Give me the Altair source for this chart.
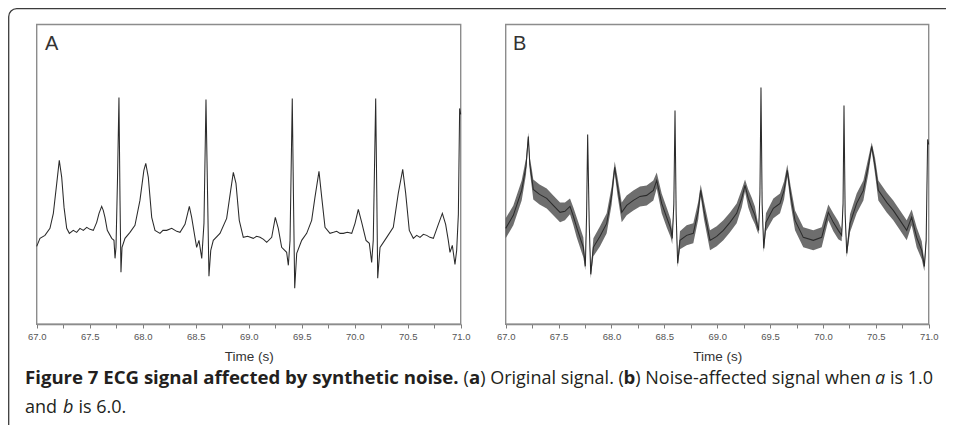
import altair as alt
import pandas as pd

# ---------------- data ----------------
TIME_DOMAIN = [67.0, 71.0]
AMP_DOMAIN = [-1.0, 2.0]
TICK_VALUES = [67.0, 67.25, 67.5, 67.75, 68.0, 68.25, 68.5, 68.75, 69.0,
               69.25, 69.5, 69.75, 70.0, 70.25, 70.5, 70.75, 71.0]

# Panel A: original ECG signal (time in s, amplitude in arbitrary units)
A_TIME = [
    67.000, 67.031, 67.078, 67.125, 67.157, 67.189, 67.213, 67.236, 67.258, 67.283,
    67.308, 67.345, 67.377, 67.408, 67.440, 67.472, 67.503, 67.534, 67.566, 67.588,
    67.613, 67.628, 67.644, 67.666, 67.708, 67.729, 67.739, 67.748, 67.762, 67.776,
    67.786, 67.795, 67.805, 67.833, 67.880, 67.927, 67.974, 68.011, 68.029, 68.053,
    68.085, 68.116, 68.163, 68.191, 68.226, 68.274, 68.321, 68.352, 68.399, 68.415,
    68.440, 68.462, 68.493, 68.509, 68.531, 68.557, 68.578, 68.597, 68.612, 68.625,
    68.642, 68.666, 68.729, 68.792, 68.830, 68.855, 68.880, 68.911, 68.949, 68.990,
    69.043, 69.075, 69.107, 69.140, 69.170, 69.217, 69.251, 69.279, 69.311, 69.358,
    69.374, 69.390, 69.411, 69.422, 69.434, 69.453, 69.500, 69.547, 69.594, 69.625,
    69.663, 69.689, 69.720, 69.767, 69.800, 69.830, 69.862, 69.893, 69.930, 69.972,
    70.003, 70.034, 70.066, 70.107, 70.138, 70.160, 70.175, 70.198, 70.208, 70.217,
    70.239, 70.302, 70.364, 70.411, 70.453, 70.481, 70.515, 70.553, 70.585, 70.616,
    70.648, 70.679, 70.710, 70.742, 70.789, 70.827, 70.858, 70.883, 70.899, 70.921,
    70.946, 70.962, 70.978, 70.990, 71.000,
]
A_AMP = [
    -0.22, -0.14, -0.11, -0.04, 0.11, 0.41, 0.64, 0.47, 0.17, -0.04,
    -0.09, -0.06, -0.08, -0.04, -0.06, -0.03, -0.05, -0.06, 0.02, 0.11,
    0.18, 0.14, 0.07, -0.06, -0.14, -0.16, -0.34, -0.23, 0.44, 1.27,
    0.24, -0.48, -0.23, -0.14, -0.08, -0.01, 0.24, 0.54, 0.61, 0.47,
    0.07, -0.06, -0.09, -0.06, -0.06, -0.04, -0.07, -0.08, 0.00, 0.07,
    0.18, 0.07, -0.13, -0.23, -0.16, -0.34, 0.01, 1.25, 0.30, -0.52,
    -0.26, -0.16, -0.09, 0.06, 0.34, 0.52, 0.41, 0.04, -0.13, -0.12,
    -0.14, -0.12, -0.13, -0.15, -0.18, -0.13, 0.07, -0.04, -0.23, -0.28,
    -0.41, -0.16, 1.26, 0.30, -0.64, -0.29, -0.16, -0.09, 0.04, 0.27,
    0.53, 0.27, -0.03, -0.09, -0.08, -0.07, -0.09, -0.09, -0.08, -0.09,
    0.01, 0.15, 0.02, -0.16, -0.19, -0.38, -0.16, 1.26, 0.35, -0.54,
    -0.23, -0.13, -0.03, 0.31, 0.55, 0.31, -0.06, -0.14, -0.11, -0.13,
    -0.10, -0.11, -0.13, -0.14, 0.00, 0.11, 0.00, -0.16, -0.28, -0.21,
    -0.40, -0.26, 0.10, 1.16, 1.10,
]

# Panel B: noise-affected signal (centre of the noisy trace and its half spread)
B_TIME = [
    67.000, 67.072, 67.151, 67.192, 67.214, 67.228, 67.246, 67.261, 67.320, 67.388,
    67.450, 67.514, 67.560, 67.608, 67.640, 67.671, 67.734, 67.753, 67.765, 67.775,
    67.790, 67.804, 67.829, 67.892, 67.955, 68.002, 68.031, 68.056, 68.097, 68.144,
    68.207, 68.270, 68.333, 68.396, 68.428, 68.475, 68.522, 68.560, 68.575, 68.590,
    68.601, 68.612, 68.626, 68.648, 68.711, 68.774, 68.821, 68.844, 68.875, 68.932,
    68.995, 69.058, 69.121, 69.184, 69.232, 69.263, 69.294, 69.326, 69.357, 69.379,
    69.392, 69.404, 69.414, 69.425, 69.440, 69.461, 69.531, 69.594, 69.632, 69.663,
    69.695, 69.736, 69.814, 69.909, 69.988, 70.051, 70.098, 70.145, 70.177, 70.190,
    70.199, 70.210, 70.225, 70.256, 70.319, 70.382, 70.430, 70.461, 70.492, 70.524,
    70.603, 70.665, 70.729, 70.792, 70.839, 70.886, 70.934, 70.959, 70.976, 70.990,
    71.000,
]
B_AMP = [
    -0.04, 0.09, 0.34, 0.58, 0.88, 0.60, 0.47, 0.35, 0.30, 0.26,
    0.19, 0.12, 0.13, 0.18, 0.08, -0.03, -0.23, -0.42, 0.10, 0.90,
    0.00, -0.50, -0.23, -0.12, 0.01, 0.29, 0.57, 0.39, 0.12, 0.19,
    0.24, 0.28, 0.29, 0.34, 0.44, 0.21, 0.07, -0.04, -0.14, 0.20,
    1.14, 0.10, -0.39, -0.16, -0.11, -0.09, 0.14, 0.34, 0.14, -0.16,
    -0.12, -0.06, 0.02, 0.11, 0.26, 0.39, 0.26, 0.17, 0.09, -0.01,
    -0.06, 0.30, 1.37, 0.20, -0.24, 0.02, 0.16, 0.21, 0.34, 0.54,
    0.29, 0.04, -0.13, -0.16, -0.13, 0.12, 0.02, -0.06, -0.11, 0.20,
    1.19, 0.10, -0.29, 0.01, 0.21, 0.34, 0.59, 0.78, 0.59, 0.34,
    0.22, 0.14, 0.04, -0.06, 0.07, -0.13, -0.26, -0.42, -0.16, 0.85,
    0.80,
]
B_SPREAD = [
    0.10, 0.10, 0.10, 0.08, 0.04, 0.07, 0.09, 0.10, 0.10, 0.10,
    0.10, 0.10, 0.09, 0.08, 0.09, 0.10, 0.10, 0.04, 0.02, 0.01,
    0.02, 0.04, 0.09, 0.10, 0.10, 0.09, 0.06, 0.09, 0.10, 0.10,
    0.10, 0.10, 0.10, 0.10, 0.08, 0.10, 0.10, 0.09, 0.06, 0.02,
    0.01, 0.02, 0.04, 0.09, 0.10, 0.10, 0.09, 0.06, 0.09, 0.10,
    0.10, 0.10, 0.10, 0.10, 0.09, 0.06, 0.09, 0.10, 0.09, 0.06,
    0.04, 0.02, 0.01, 0.02, 0.04, 0.09, 0.10, 0.10, 0.09, 0.06,
    0.09, 0.10, 0.10, 0.10, 0.10, 0.08, 0.09, 0.09, 0.06, 0.02,
    0.01, 0.02, 0.04, 0.09, 0.10, 0.10, 0.08, 0.04, 0.08, 0.10,
    0.10, 0.10, 0.10, 0.10, 0.08, 0.10, 0.09, 0.05, 0.03, 0.01,
    0.01,
]

AXIS_TITLE = "Time (s)"
PANEL_LABELS = ["A", "B"]
CAPTION_BOLD = "Figure 7 ECG signal affected by synthetic noise."

# ---------------- tables ----------------
df_a = pd.DataFrame({"t": A_TIME, "v": A_AMP})
df_b = pd.DataFrame({"t": B_TIME, "v": B_AMP, "w": B_SPREAD})
df_b["lo"] = df_b["v"] - df_b["w"]
df_b["hi"] = df_b["v"] + df_b["w"]
df_frame = pd.DataFrame({"t0": [TIME_DOMAIN[0]], "t1": [TIME_DOMAIN[1]],
                         "a0": [AMP_DOMAIN[0]], "a1": [AMP_DOMAIN[1]]})

# ---------------- styling ----------------
LABEL_EXPR = "datum.value % 0.5 === 0 ? format(datum.value, '.1f') : ''"


def x_axis():
    return alt.Axis(
        orient="bottom", values=TICK_VALUES, labelExpr=LABEL_EXPR, title=AXIS_TITLE,
        grid=False, domainColor="#7d7d7d", domainWidth=1.3, tickColor="#7d7d7d",
        tickSize=4, tickWidth=1, labelFont="Liberation Sans", labelFontSize=9.5,
        labelColor="#555555", labelPadding=11, labelBaseline="alphabetic",
        labelOverlap=False, labelFlush=False,
        titleFont="Liberation Sans", titleFontSize=13.5, titleFontWeight="normal",
        titleColor="#333333", titleBaseline="alphabetic", titleY=36.5,
    )


Y_SCALE = alt.Scale(domain=AMP_DOMAIN, range=[316.3, 16.5], nice=False, zero=False)


def panel(x_range, layers_df, band=False):
    xs = alt.Scale(domain=TIME_DOMAIN, range=x_range, nice=False, zero=False)
    frame = alt.Chart(df_frame).mark_rect(
        fillOpacity=0, stroke="#8c8c8c", strokeWidth=1.4
    ).encode(
        x=alt.X("t0:Q", scale=xs, axis=x_axis()), x2="t1:Q",
        y=alt.Y("a0:Q", scale=Y_SCALE, axis=None), y2="a1:Q",
    )
    parts = [frame]
    if band:
        parts.append(
            alt.Chart(layers_df).mark_area(color="#555555", opacity=0.85).encode(
                x=alt.X("t:Q", scale=xs, axis=x_axis()),
                y=alt.Y("lo:Q", scale=Y_SCALE, axis=None), y2="hi:Q",
            )
        )
    parts.append(
        alt.Chart(layers_df).mark_line(color="#2b2b2b", strokeWidth=1.05).encode(
            x=alt.X("t:Q", scale=xs, axis=x_axis()),
            y=alt.Y("v:Q", scale=Y_SCALE, axis=None),
        )
    )
    return alt.layer(*parts)


panel_a = panel([28.7, 452.7], df_a)
panel_b = panel([497.7, 920.7], df_b, band=True)

ONE = alt.Data(values=[{}])

border = alt.Chart(ONE).mark_rect(
    fillOpacity=0, stroke="#3c3c3c", strokeWidth=1.3, cornerRadius=8
).encode(x=alt.value(0.7), y=alt.value(0.7), x2=alt.value(960), y2=alt.value(440))


def txt(s, x, y, size=18.0, weight="normal", style="normal", font="Open Sans", color="#231f20"):
    return alt.Chart(ONE).mark_text(
        text=s, align="left", baseline="alphabetic", font=font, fontSize=size,
        fontWeight=weight, fontStyle=style, color=color,
    ).encode(x=alt.value(x), y=alt.value(y))


L1 = 376
L2 = 405
texts = [
    txt(PANEL_LABELS[0], 37, 42, size=20, font="Liberation Sans", color="#333333"),
    txt(PANEL_LABELS[1], 505, 42, size=20, font="Liberation Sans", color="#333333"),
    txt(CAPTION_BOLD, 17, L1, size=18.6, weight="bold"),
    txt("(", 455.6, L1),
    txt("a", 461.0, L1, size=18.6, weight="bold"),
    txt(") Original signal. (", 472.2, L1),
    txt("b", 615.5, L1, size=18.6, weight="bold"),
    txt(") Noise-affected signal when", 627.3, L1),
    txt("a", 867.0, L1, style="italic"),
    txt("is 1.0", 882.0, L1),
    txt("and", 17, L2),
    txt("b", 55.0, L2, style="italic"),
    txt("is 6.0.", 70.5, L2),
]

chart = alt.layer(panel_a, panel_b, border, *texts).resolve_scale(
    x="independent", y="independent"
).resolve_axis(
    x="independent", y="independent"
).properties(
    width=938, height=316,
    autosize=alt.AutoSizeParams(type="none"),
    padding={"left": 0, "top": 0, "right": 0, "bottom": 101},
).configure_view(strokeWidth=0)

chart.save("out.html", embed_options={"renderer": "svg", "actions": False})
